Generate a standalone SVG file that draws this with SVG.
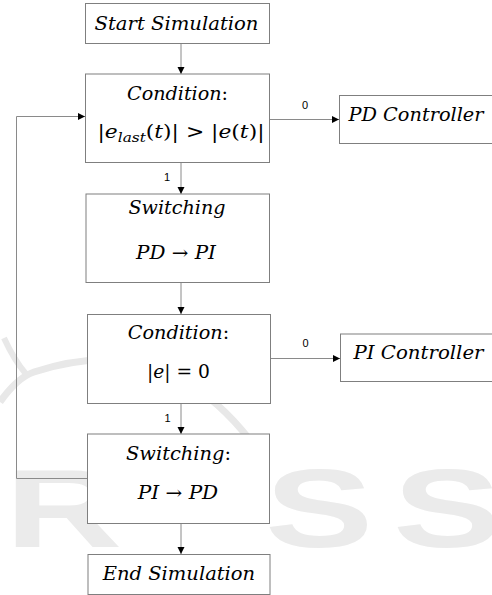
<svg xmlns="http://www.w3.org/2000/svg" width="492" height="595" viewBox="0 0 492 595">
  <style>
    .box { fill: #ffffff; stroke: #7f7f7f; stroke-width: 1; }
    .t { font-family: "DejaVu Serif", "Liberation Serif", serif; font-style: italic; font-size: 18.5px; fill: #000; }
    .up { font-style: normal; }
    .lbl { font-family: "Liberation Sans", Arial, sans-serif; font-size: 11px; fill: #000; }
    .edge { fill: none; stroke: #8a8a8a; stroke-width: 1; marker-end: url(#arrow); }
    .wm { fill: #ebebeb; font-family: "Liberation Sans", Arial, sans-serif; font-weight: bold; font-size: 112px; }
  </style>
  <defs>
    <marker id="arrow" markerUnits="userSpaceOnUse" markerWidth="8" markerHeight="8" refX="7" refY="3.5" orient="auto">
      <path d="M0,0 L7,3.5 L0,7 z" fill="#000"/>
    </marker>
  </defs>
  <rect width="492" height="595" fill="#ffffff"/>

  <!-- faint background mark -->
  <g id="watermark">
    <path d="M0,402 C12,385 22,376 34,372 C100,350 180,350 250,440" fill="none" stroke="#e8e8e8" stroke-width="7"/>
    <path d="M4,338 Q14,360 26,374" fill="none" stroke="#e8e8e8" stroke-width="6"/>
    <g transform="scale(1.45,1)">
      <text class="wm" x="-71" y="547">P</text>
      <text class="wm" x="3.4" y="547">R</text>
      <text class="wm" x="182.8" y="547">S</text>
      <text class="wm" x="271" y="547">S</text>
    </g>
  </g>

  <g id="connectors">
    <path class="edge" d="M181,43.5 V74"/>
    <path class="edge" d="M269.5,119.5 H339"/>
    <path class="edge" d="M181,162.5 V194"/>
    <path class="edge" d="M181,282.5 V314"/>
    <path class="edge" d="M270.5,358.5 H340"/>
    <path class="edge" d="M181,403.5 V434"/>
    <path class="edge" d="M181,523.5 V554"/>
    <path class="edge" d="M87.5,478.5 H16.5 V116.5 H85"/>
    <text class="lbl" x="302" y="108.5">0</text>
    <text class="lbl" x="164" y="181">1</text>
    <text class="lbl" x="302.5" y="346.5">0</text>
    <text class="lbl" x="164.5" y="421.5">1</text>
  </g>

  <g id="start">
    <rect class="box" x="85.5" y="3.5" width="184" height="40"/>
    <text class="t" x="94.5" y="29.5" textLength="164" lengthAdjust="spacingAndGlyphs">Start Simulation</text>
  </g>

  <g id="condition1">
    <rect class="box" x="85.5" y="74" width="184" height="88.5"/>
    <text class="t" x="127" y="99.5" textLength="101" lengthAdjust="spacingAndGlyphs">Condition<tspan class="up">:</tspan></text>
    <text class="t" x="97.5" y="138" textLength="167" lengthAdjust="spacingAndGlyphs"><tspan class="up">|</tspan>e<tspan font-size="13" dy="4">last</tspan><tspan class="up" dy="-4">(</tspan>t<tspan class="up">)| &gt; |</tspan>e<tspan class="up">(</tspan>t<tspan class="up">)|</tspan></text>
  </g>

  <g id="pd-controller">
    <rect class="box" x="339.5" y="95.5" width="160" height="48"/>
    <text class="t" x="348.5" y="121" textLength="135" lengthAdjust="spacingAndGlyphs">PD Controller</text>
  </g>

  <g id="switching1">
    <rect class="box" x="86" y="194" width="183.5" height="88.5"/>
    <text class="t" x="128.5" y="213.5" textLength="97" lengthAdjust="spacingAndGlyphs">Switching</text>
    <text class="t" x="136" y="259" textLength="80" lengthAdjust="spacingAndGlyphs">PD <tspan class="up">→</tspan> PI</text>
  </g>

  <g id="condition2">
    <rect class="box" x="87.5" y="314.5" width="183" height="89"/>
    <text class="t" x="127.7" y="339.3" textLength="101.5" lengthAdjust="spacingAndGlyphs">Condition<tspan class="up">:</tspan></text>
    <text class="t" x="147" y="378" textLength="63" lengthAdjust="spacingAndGlyphs"><tspan class="up">|</tspan>e<tspan class="up">| = 0</tspan></text>
  </g>

  <g id="pi-controller">
    <rect class="box" x="340.5" y="334" width="160" height="47.5"/>
    <text class="t" x="353.5" y="358.8" textLength="130" lengthAdjust="spacingAndGlyphs">PI Controller</text>
  </g>

  <g id="switching2">
    <rect class="box" x="87.5" y="434" width="182" height="89.5"/>
    <text class="t" x="126" y="460" textLength="105" lengthAdjust="spacingAndGlyphs">Switching<tspan class="up">:</tspan></text>
    <text class="t" x="137.7" y="499.3" textLength="80.5" lengthAdjust="spacingAndGlyphs">PI <tspan class="up">→</tspan> PD</text>
  </g>

  <g id="end">
    <rect class="box" x="88" y="554.5" width="182" height="40"/>
    <text class="t" x="102.7" y="580" textLength="152.5" lengthAdjust="spacingAndGlyphs">End Simulation</text>
  </g>
</svg>
